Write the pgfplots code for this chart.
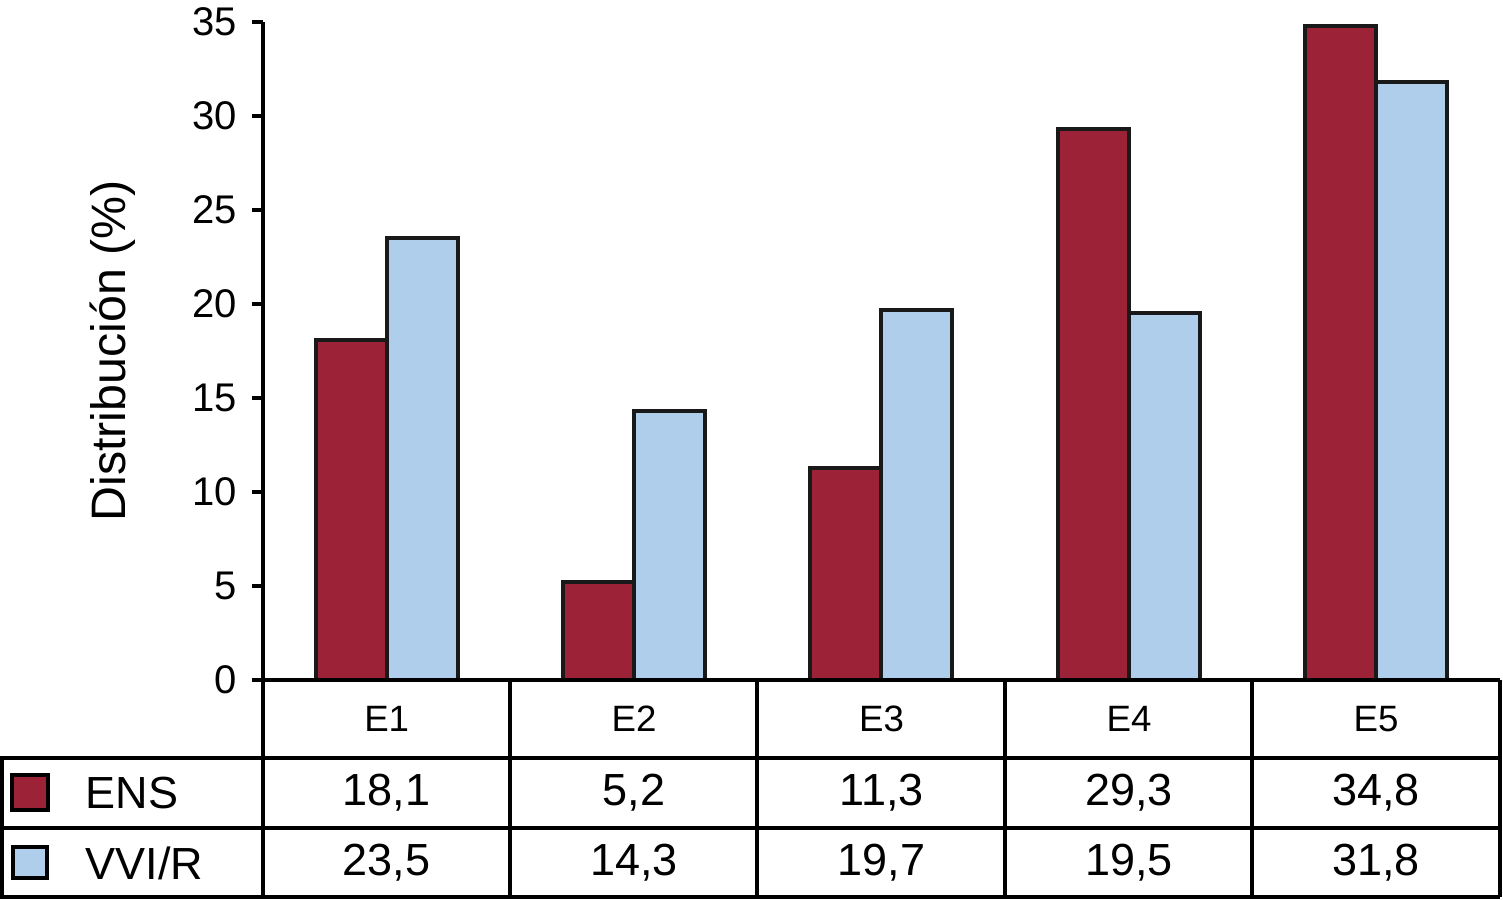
\documentclass[border=0pt]{standalone}
\usepackage{fontspec}
\setmainfont{Liberation Sans}
\usepackage{pgfplots}
\pgfplotsset{compat=1.18}

\definecolor{ensred}{HTML}{9B2237}
\definecolor{vviblue}{HTML}{AECEEC}

\begin{document}
\begin{tikzpicture}[x=0.3pt, y=0.3pt]

    \begin{axis}[
        at={(78.9pt,66pt)},
        anchor=south west,
        scale only axis,
        width=371.1pt,
        height=197.4pt,
        xmin=-0.5, xmax=4.5,
        ymin=0, ymax=35,
        ytick={0,5,...,35},
        xtick=\empty,
        axis x line=bottom,
        axis y line=left,
        axis line style={-, line width=1.2pt},
        tick align=outside,
        major tick length=3.3pt,
        tick style={line width=1.2pt, black},
        yticklabel style={font=\fontsize{12}{14}\selectfont, xshift=-1pt},
        /pgf/number format/assume math mode=true,
        ylabel={Distribución (\%)},
        ylabel style={at={(axis description cs:0,0.5)}, anchor=center,
            yshift=45pt, font=\fontsize{14.5}{17}\selectfont},
        ybar=0pt,
        bar width=21.3pt,
        clip=false,
    ]
        \addplot[fill=ensred, draw=black!90, line width=1.2pt]
            coordinates {(0,18.1) (1,5.2) (2,11.3) (3,29.3) (4,34.8)};
        \addplot[fill=vviblue, draw=black!90, line width=1.2pt]
            coordinates {(0,23.5) (1,14.3) (2,19.7) (3,19.5) (4,31.8)};
    \end{axis}

    % data table below the axis
    \begin{scope}[line width=1.2pt]
        \draw (263,220) -- (1500,220);
        \draw (0,142) -- (1500,142);
        \draw (0,72) -- (1500,72);
        \draw (0,3) -- (1500,3);
        \draw (2,142) -- (2,3);
        \foreach \xx in {263,510,757,1005,1252,1500}
            \draw (\xx,220) -- (\xx,3);
    \end{scope}

    \draw[line width=1.2pt, fill=ensred] (12,90) rectangle (48,125);
    \draw[line width=1.2pt, fill=vviblue] (13,22) rectangle (47,53);

    \begin{scope}[font=\fontsize{13.5}{16}\selectfont]
        \node[anchor=west, inner sep=0pt] at (85,107) {ENS};
        \node[anchor=west, inner sep=0pt] at (85,37) {VVI/R};
        \foreach \xx/\va/\vb in {386.7/{18,1}/{23,5}, 634/{5,2}/{14,3},
                                 881.5/{11,3}/{19,7}, 1129/{29,3}/{19,5},
                                 1376/{34,8}/{31,8}} {
            \node at (\xx,107) {\va};
            \node at (\xx,37) {\vb};
        }
    \end{scope}

    \begin{scope}[font=\fontsize{11}{13}\selectfont]
        \foreach \xx/\lab in {386.7/E1, 634/E2, 881.5/E3, 1129/E4, 1376/E5}
            \node at (\xx,181) {\lab};
    \end{scope}

    % page frame, 1503 x 900 px
    \pgfresetboundingbox
    \path (0,0) rectangle (1503,900);
\end{tikzpicture}
\end{document}
